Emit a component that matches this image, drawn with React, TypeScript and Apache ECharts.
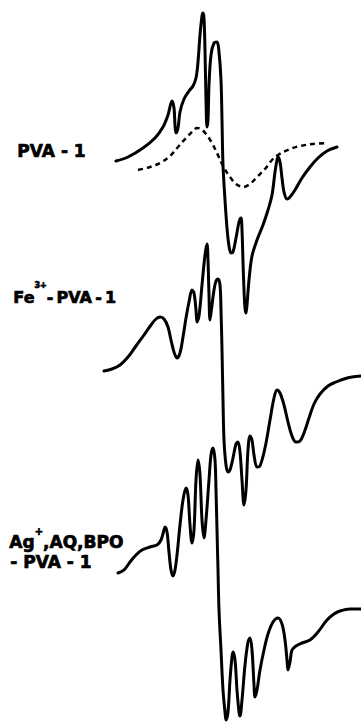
import React, { useEffect, useRef } from "react";
import * as echarts from "echarts";

// Spectrum 1: PVA-1 (solid)
const pva1X = [116,128,143,155,163,168,172,174,175,176,178,180,184,189,193,196,198,200,202,203,204,205,206,207,208,209,211,214,217,219,221,222,223,225,227,229,231,233,236,239,241,242,243,244,245,246,247,249,252,257,263,268,272,275,277,278,280,282,284,287,290,295,302,310,318,327,337];
const pva1Y = [161,157,148,138,127,115,101,108,125,133,128,112,99,91,86,78,62,35,16,13,18,50,100,127,120,85,55,43,42,52,80,120,165,200,228,246,253,252,238,222,218,230,262,290,308,313,305,280,256,240,225,210,195,172,160,157,162,178,192,199,197,190,178,167,158,151,147];

// Spectrum 1b: PVA-1 (dashed)
const pva1bX = [138,150,160,170,178,186,193,197,201,206,212,217,223,230,236,243,250,257,265,272,278,290,300,313,327];
const pva1bY = [170,167,163,156,147,138,131,128,129,134,143,153,166,177,184,187,184,177,169,160,155,149,146,144,143];

// Spectrum 2: Fe3+-PVA-1
const feX = [104,112,120,128,136,144,151,156,160,164,168,171,174,177,180,183,186,189,192,194,196,197,199,202,205,207,208,209,210,212,214,216,218,220,221,222,223,224,226,228,230,233,236,238,240,242,244,246,248,250,252,254,257,260,265,270,274,277,280,284,288,292,296,300,304,309,314,320,328,336,344,352,361];
const feY = [371,369,365,357,346,335,325,319,317,319,327,340,352,358,353,337,318,302,290,293,310,322,316,285,255,244,260,295,320,305,290,281,279,285,310,350,400,440,465,472,470,458,444,442,452,480,505,490,450,436,440,455,467,466,448,420,398,390,393,405,422,436,442,441,433,418,404,394,386,382,379,377,376];

// Spectrum 3: Ag+,AQ,BPO-PVA-1
const agX = [118,124,130,136,142,150,157,161,164,165,167,169,171,173,175,177,180,183,186,188,190,192,194,196,198,200,202,204,206,209,211,213,215,216,217,218,219,221,223,225,226,228,230,232,233,235,237,239,240,242,245,248,250,252,254,255,257,260,264,268,273,278,282,285,287,288,290,292,296,302,310,318,327,334,340,350,361];
const agY = [573,570,562,555,550,547,545,540,530,527,532,552,570,576,570,555,525,500,488,495,525,543,530,480,460,475,520,538,520,480,455,448,460,490,530,570,610,650,690,712,720,712,680,657,652,660,690,712,716,700,665,642,638,650,685,697,690,670,650,634,622,618,624,640,660,670,662,650,646,643,640,632,620,614,611,609,609];

const labelPva = "PVA - 1";
const labelFe = ["Fe", "3+", "-\u2009PVA\u2009-\u20091"];
const labelAg = ["Ag", "+", ",AQ,BPO", "- PVA - 1"];

const zip = (xs: number[], ys: number[]) => xs.map((x, i) => [x, ys[i]]);

export default function App() {
  const ref = useRef<HTMLDivElement>(null);
  useEffect(() => {
    if (!ref.current) return;
    const chart = echarts.init(ref.current, null, { renderer: "svg" });
    const font = "DejaVu Sans";
    const fs = 17;
    const base = { fontFamily: font, fontWeight: "bold", fontSize: fs, fill: "#000", stroke: "#000", lineWidth: 0.7 };
    const richA = { fontFamily: font, fontWeight: "bold", fontSize: fs, verticalAlign: "bottom", lineHeight: 24, textStroke: "#000", textStrokeWidth: 0.7 };
    const lineStyle = { color: "#000", width: 3, cap: "round", join: "round" };
    chart.setOption({
      animation: false,
      backgroundColor: "#fff",
      grid: { left: 0, right: 0, top: 0, bottom: 0 },
      xAxis: { type: "value", min: 0, max: 361, show: false },
      yAxis: { type: "value", min: 0, max: 723, inverse: true, show: false },
      series: [
        { type: "line", data: zip(pva1X, pva1Y), smooth: 0.35, showSymbol: false, lineStyle },
        { type: "line", data: zip(pva1bX, pva1bY), smooth: 0.35, showSymbol: false, lineStyle: { color: "#000", width: 2.5, type: [5, 4] } },
        { type: "line", data: zip(feX, feY), smooth: 0.35, showSymbol: false, lineStyle },
        { type: "line", data: zip(agX, agY), smooth: 0.35, showSymbol: false, lineStyle },
      ],
      graphic: [
        { type: "text", left: 17, top: 142, style: { ...base, text: labelPva } },
        {
          type: "text", left: 13, top: 281,
          style: {
            ...base,
            text: `{a|${labelFe[0]}}{s|${labelFe[1]}}{a|${labelFe[2]}}`,
            rich: {
              a: { ...richA, fontSize: 16 },
              s: { fontFamily: font, fontWeight: "bold", fontSize: 8, verticalAlign: "top", lineHeight: 24 },
            },
          },
        },
        {
          type: "text", left: 9, top: 526,
          style: {
            ...base,
            text: `{a|${labelAg[0]}}{s|${labelAg[1]}}{a|${labelAg[2]}}`,
            rich: {
              a: richA,
              s: { fontFamily: font, fontWeight: "bold", fontSize: 10, verticalAlign: "top", lineHeight: 24 },
            },
          },
        },
        { type: "text", left: 10, top: 553, style: { ...base, text: labelAg[3] } },
      ],
    });
    return () => chart.dispose();
  }, []);
  return <div ref={ref} style={{ position: "absolute", left: 0, top: 0, width: 361, height: 723 }} />;
}
